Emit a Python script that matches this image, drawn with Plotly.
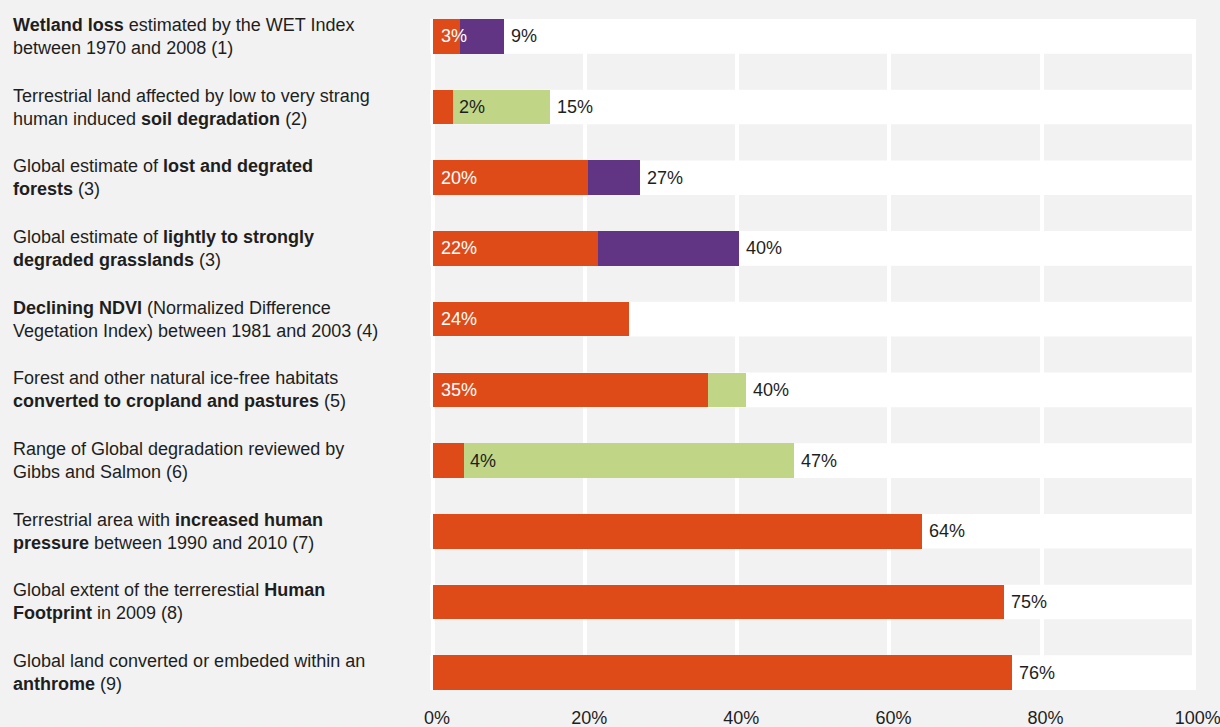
import plotly.graph_objects as go

# ---------------- data ----------------
categories = [
    "<b>Wetland loss</b> estimated by the WET Index<br>between 1970 and 2008 (1)",
    "Terrestrial land affected by low to very strang<br>human induced <b>soil degradation</b> (2)",
    "Global estimate of <b>lost and degrated</b><br><b>forests</b> (3)",
    "Global estimate of <b>lightly to strongly</b><br><b>degraded grasslands</b> (3)",
    "<b>Declining NDVI</b> (Normalized Difference<br>Vegetation Index) between 1981 and 2003 (4)",
    "Forest and other natural ice-free habitats<br><b>converted to cropland and pastures</b> (5)",
    "Range of Global degradation reviewed by<br>Gibbs and Salmon (6)",
    "Terrestrial area with <b>increased human</b><br><b>pressure</b> between 1990 and 2010 (7)",
    "Global extent of the terrerestial <b>Human</b><br><b>Footprint</b> in 2009 (8)",
    "Global land converted or embeded within an<br><b>anthrome</b> (9)",
]
orange_val = [3.57, 2.56, 20.35, 21.67, 25.82, 36.2, 4.06, 64.28, 75.06, 76.11]
purple_end = [9.32, None, 27.27, 40.28, None, None, None, None, None, None]
green_end = [None, 15.4, None, None, None, 41.12, 47.42, None, None, None]
inner_labels = ["3%", "2%", "20%", "22%", "24%", "35%", "4%", "", "", ""]
total_labels = ["9%", "15%", "27%", "40%", "", "40%", "47%", "64%", "75%", "76%"]
tick_vals = [0, 20, 40, 60, 80, 100]
tick_text = ["0%", "20%", "40%", "60%", "80%", "100%"]

# ---------------- style ----------------
ORANGE = "#DF4B18"
PURPLE = "#613583"
GREEN = "#C0D686"
BG = "#F2F2F2"
TXT = "#1e1e1e"
FONT = "Liberation Sans, Arial, Helvetica, sans-serif"
W, H = 1220, 727
ML, MR, MT, MB = 430, 24, 19, 37
BW = 0.49

n = len(categories)
ypos = list(range(n))

fig = go.Figure()
fig.add_trace(go.Bar(y=ypos, x=orange_val, orientation="h", width=BW,
                     marker=dict(color=ORANGE, line=dict(width=0)),
                     hoverinfo="skip", showlegend=False))
p_y = [i for i in ypos if purple_end[i] is not None]
fig.add_trace(go.Bar(y=p_y, x=[purple_end[i] - orange_val[i] for i in p_y],
                     base=[orange_val[i] for i in p_y], orientation="h", width=BW,
                     marker=dict(color=PURPLE, line=dict(width=0)),
                     hoverinfo="skip", showlegend=False))
g_y = [i for i in ypos if green_end[i] is not None]
fig.add_trace(go.Bar(y=g_y, x=[green_end[i] - orange_val[i] for i in g_y],
                     base=[orange_val[i] for i in g_y], orientation="h", width=BW,
                     marker=dict(color=GREEN, line=dict(width=0)),
                     hoverinfo="skip", showlegend=False))

x_lo, x_hi = -0.4, 100.3

shapes = []
for i in range(n - 1):
    shapes.append(dict(type="rect", xref="x", yref="y", layer="below",
                       x0=x_lo, x1=x_hi, y0=i + BW / 2, y1=i + 1 - BW / 2,
                       fillcolor=BG, line=dict(width=0)))

annotations = []
plot_w = W - ML - MR
for i, cat in enumerate(categories):
    annotations.append(dict(xref="paper", yref="y", x=(11 - ML) / plot_w, y=i,
                            text=cat, showarrow=False, xanchor="left", yanchor="middle",
                            align="left", font=dict(family=FONT, size=18, color=TXT)))
    if inner_labels[i]:
        dark = green_end[i] is not None and orange_val[i] < 10
        if dark:
            annotations.append(dict(xref="x", yref="y", x=orange_val[i], y=i,
                                    text=inner_labels[i], showarrow=False, xanchor="left",
                                    yanchor="middle", xshift=4,
                                    font=dict(family=FONT, size=18, color=TXT)))
        else:
            annotations.append(dict(xref="x", yref="y", x=0, y=i,
                                    text=inner_labels[i], showarrow=False, xanchor="left",
                                    yanchor="middle", xshift=6,
                                    font=dict(family=FONT, size=18, color="white")))
    if total_labels[i]:
        ends = [v for v in (orange_val[i], purple_end[i], green_end[i]) if v is not None]
        annotations.append(dict(xref="x", yref="y", x=max(ends), y=i,
                                text=total_labels[i], showarrow=False, xanchor="left",
                                yanchor="middle", xshift=5,
                                font=dict(family=FONT, size=18, color=TXT)))

fig.update_layout(
    width=W, height=H,
    margin=dict(l=ML, r=MR, t=MT, b=MB, pad=0, autoexpand=False),
    paper_bgcolor=BG, plot_bgcolor="white",
    barmode="overlay", bargap=0,
    shapes=shapes, annotations=annotations,
    font=dict(family=FONT, size=18, color=TXT),
    xaxis=dict(range=[x_lo, x_hi], tickvals=tick_vals, ticktext=tick_text,
               showgrid=True, gridcolor="white", gridwidth=4, zeroline=False,
               showline=False, ticks="", ticklabelstandoff=15, ticklabelshift=4,
               ticklabeloverflow="allow", automargin=False,
               tickfont=dict(family=FONT, size=18, color=TXT), fixedrange=True),
    yaxis=dict(range=[n - 1 + BW / 2, -BW / 2], showticklabels=False, showgrid=False,
               zeroline=False, showline=False, ticks="", fixedrange=True,
               automargin=False),
)

fig.write_html(
    "out.html",
    config={"displayModeBar": False},
    post_script="document.body.style.margin='0';document.body.style.padding='0';"
                "document.body.style.overflow='hidden';"
                "document.body.style.background='" + BG + "';",
)
